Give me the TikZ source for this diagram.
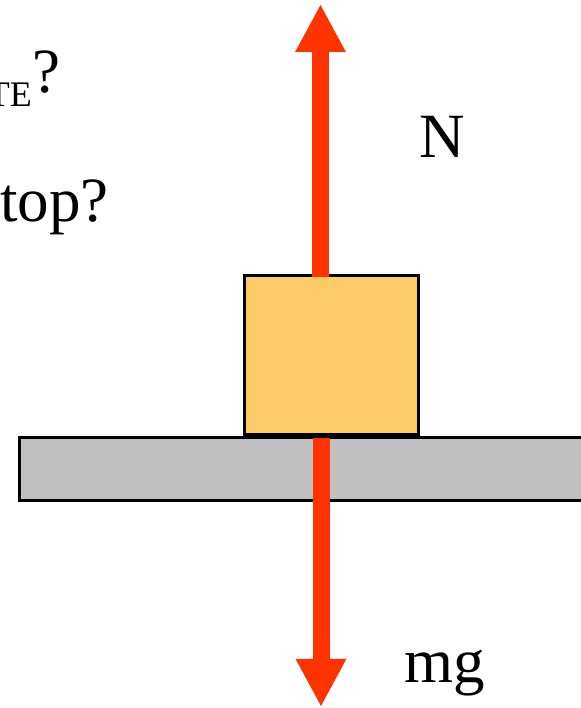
\documentclass[tikz,border=0pt]{standalone}
\usepackage{fontspec}
\setmainfont{Liberation Serif}
\usetikzlibrary{arrows.meta}
\definecolor{blockfill}{RGB}{253,202,104}
\definecolor{boardfill}{RGB}{192,192,192}
\definecolor{forcered}{RGB}{255,51,0}
\tikzset{
  board/.style={draw=black, line width=3pt, fill=boardfill, rectangle, inner sep=0pt},
  block/.style={draw=black, line width=3pt, fill=blockfill, rectangle, inner sep=0pt},
  force/.style={draw=forcered, line width=17pt, line cap=butt,
    -{Triangle[width=47pt,length=48pt]}},
  big/.style={inner sep=0pt, font=\fontsize{63}{70}\selectfont},
  small/.style={inner sep=0pt, font=\fontsize{36}{40}\selectfont}
}
\begin{document}
\begin{tikzpicture}[x=1pt,y=1pt]
\useasboundingbox (0,0) rectangle (580,708);
% board
\node[board, anchor=north west, minimum width=590pt, minimum height=63pt] (board) at (17.5,271.5) {};
% force arrow down (mg)
\coordinate (downstart) at (321,270);
\coordinate (downtip) at (321,1);
\draw[force] (downstart) -- (downtip);
% block
\node[block, anchor=south west, minimum width=174pt, minimum height=159pt] (blk) at (242.5,271.5) {};
% force arrow up (N)
\coordinate (upstart) at (320.5,430.5);
\coordinate (uptip) at (320.5,704);
\draw[force] (upstart) -- (uptip);
% labels
\node[big, anchor=base west] (nlabel) at (419,550) {N};
\node[big, anchor=base west] (mglabel) at (404,25) {mg};
\node[big, anchor=base west] (toplabel) at (0,486) {top?};
\node[big, anchor=base west] (qlabel) at (32,615) {?};
\node[small, anchor=base east] (telabel) at (32,601) {TE};
\end{tikzpicture}
\end{document}
